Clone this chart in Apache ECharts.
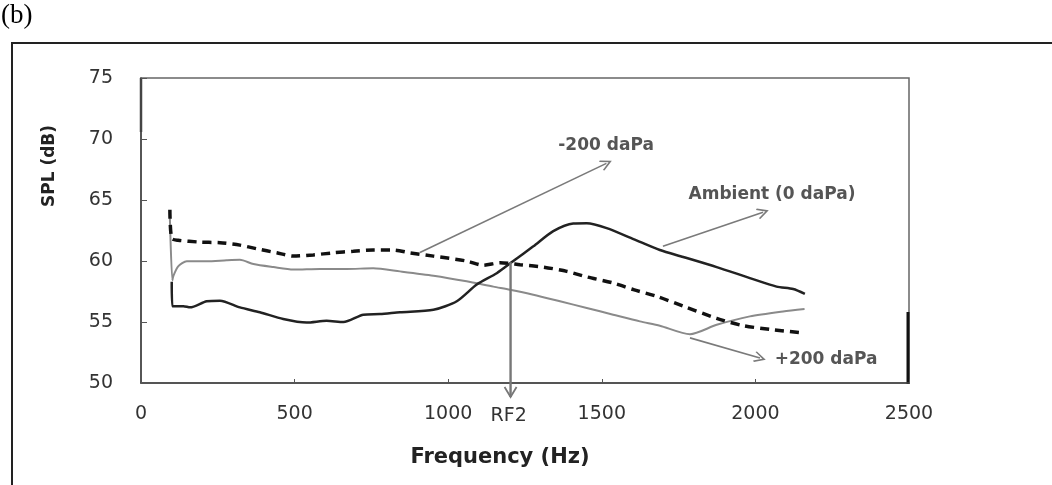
<!DOCTYPE html>
<html>
<head>
<meta charset="utf-8">
<script src="https://cdn.jsdelivr.net/npm/echarts@6/dist/echarts.min.js"></script>
<style>
  html, body { margin: 0; padding: 0; background: #fff; }
  #chart { width: 1052px; height: 485px; }
</style>
</head>
<body>
<div id="chart"></div>
<script>
// Axis ranges and tick spacing
const xRange = [0, 2500];
const xStep = 500;
const yRange = [50, 75];
const yStep = 5;

// Ambient (0 daPa) response
const ambientHz = [100, 102, 138, 160, 214, 257, 322, 387, 463, 539, 604, 659, 724, 778, 843, 952, 1028, 1093, 1158, 1212, 1277, 1342, 1407, 1451, 1516, 1603, 1689, 1765, 1874, 1982, 2069, 2123, 2161];
const ambientDb = [58.3, 56.3, 56.3, 56.2, 56.7, 56.75, 56.2, 55.8, 55.25, 54.96, 55.1, 55.0, 55.6, 55.65, 55.8, 56.0, 56.7, 58.07, 59.0, 60.0, 61.2, 62.45, 63.08, 63.1, 62.7, 61.8, 60.9, 60.33, 59.5, 58.6, 57.9, 57.7, 57.3];

// -200 daPa response
const minus200Hz = [94, 100, 121, 192, 257, 322, 377, 442, 496, 561, 626, 691, 756, 821, 876, 952, 1060, 1114, 1169, 1234, 1310, 1386, 1451, 1537, 1603, 1679, 1765, 1874, 1960, 2047, 2156];
const minus200Db = [64.2, 61.85, 61.7, 61.55, 61.5, 61.3, 61.0, 60.67, 60.4, 60.5, 60.67, 60.8, 60.9, 60.9, 60.67, 60.4, 60.0, 59.65, 59.86, 59.7, 59.5, 59.15, 58.7, 58.2, 57.65, 57.1, 56.3, 55.3, 54.7, 54.4, 54.1];

// +200 daPa response
const plus200Hz = [94, 102, 105, 121, 149, 214, 279, 322, 366, 431, 496, 583, 670, 756, 843, 952, 1060, 1147, 1201, 1277, 1364, 1451, 1537, 1624, 1689, 1787, 1874, 1982, 2090, 2160];
const plus200Db = [63.5, 58.4, 58.75, 59.56, 59.97, 59.97, 60.06, 60.1, 59.75, 59.5, 59.3, 59.35, 59.35, 59.4, 59.15, 58.8, 58.34, 57.9, 57.65, 57.24, 56.7, 56.15, 55.6, 55.05, 54.7, 54.0, 54.77, 55.46, 55.87, 56.07];

// Callout arrows: [start Hz, start dB, tip Hz, tip dB]
const arrowMinus200 = [908, 60.7, 1515, 68.0];
const arrowAmbient = [1699, 61.2, 2025, 64.0];
const arrowPlus200 = [1787, 53.7, 2015, 52.05];
// RF2 marker: second resonance frequency, arrow runs below the x axis
const arrowRF2 = [1203, 59.9, 1203, 48.85];
const rf2Text = ['RF2', 1197, 47.3];

// Callout texts: [label, Hz, dB]
const calloutTexts = [
  ['-200 daPa', 1514, 69.42],
  ['Ambient (0 daPa)', 2054, 65.47],
  ['+200 daPa', 2230, 51.9]
];

const zip = (xs, ys) => xs.map((x, i) => [x, ys[i]]);

const chevron = 'path://M5,0 L10,9 L9,10 L5,3 L1,10 L0,9 Z';
const arrowLine = (a) => [{ coord: [a[0], a[1]] }, { coord: [a[2], a[3]] }];

const chart = echarts.init(document.getElementById('chart'), null, { renderer: 'canvas' });

const tickFont = { color: '#333', fontSize: 19, fontFamily: 'DejaVu Sans' };
const calloutFont = { color: '#555', fontSize: 17, fontWeight: 'bold', fontFamily: 'DejaVu Sans' };

chart.setOption({
  animation: false,
  backgroundColor: '#fff',
  grid: {
    left: 141, right: 143, top: 78, bottom: 102,
    show: true, borderColor: '#666', borderWidth: 1.5, backgroundColor: 'transparent'
  },
  xAxis: {
    type: 'value', min: xRange[0], max: xRange[1], interval: xStep,
    axisLine: { show: true, lineStyle: { color: '#444', width: 1.5 } },
    axisTick: { show: true, inside: true, length: 4, lineStyle: { color: '#555' } },
    splitLine: { show: false },
    axisLabel: Object.assign({ margin: 22, formatter: (v) => String(v) }, tickFont)
  },
  yAxis: {
    type: 'value', min: yRange[0], max: yRange[1], interval: yStep,
    axisLine: { show: true, lineStyle: { color: '#444', width: 1.5 } },
    axisTick: { show: true, inside: true, length: 6, lineStyle: { color: '#555' } },
    splitLine: { show: false },
    axisLabel: Object.assign({ margin: 28, formatter: (v) => String(v) }, tickFont)
  },
  series: [
    {
      name: '+200 daPa', type: 'line', data: zip(plus200Hz, plus200Db),
      symbol: 'none', smooth: 0.25,
      lineStyle: { color: '#8a8a8a', width: 2 }, z: 2
    },
    {
      name: '-200 daPa', type: 'line', data: zip(minus200Hz, minus200Db),
      symbol: 'none', smooth: 0.25,
      lineStyle: { color: '#111', width: 3.5, type: [9, 6] }, z: 3
    },
    {
      name: 'Ambient (0 daPa)', type: 'line', data: zip(ambientHz, ambientDb),
      symbol: 'none', smooth: 0.25,
      lineStyle: { color: '#222', width: 2.5 }, z: 4
    },
    {
      name: 'callouts', type: 'line', data: [], clip: false, z: 5,
      markLine: {
        silent: true, animation: false,
        symbol: ['none', chevron], symbolSize: [11, 12],
        label: { show: false },
        lineStyle: { color: '#7a7a7a', width: 1.6, type: 'solid' },
        emphasis: { disabled: true },
        data: [
          arrowLine(arrowMinus200),
          arrowLine(arrowAmbient),
          arrowLine(arrowPlus200)
        ]
      },
      markPoint: {
        silent: true, animation: false,
        symbol: 'circle', symbolSize: 1,
        itemStyle: { color: 'rgba(0,0,0,0)' },
        label: Object.assign({ show: true, position: 'inside', formatter: '{b}' }, calloutFont),
        data: calloutTexts.map(t => ({ name: t[0], coord: [t[1], t[2]] }))
      }
    }
  ]
});

// The RF2 arrow and its label sit partly below the axis, so they are placed
// through the grid's own value-to-pixel conversion rather than as markers.
const toPx = (hz, db) => chart.convertToPixel({ gridIndex: 0 }, [hz, db]);
const rfFrom = toPx(arrowRF2[0], arrowRF2[1]);
const rfTip = toPx(arrowRF2[2], arrowRF2[3]);
const rfLabel = toPx(rf2Text[1], rf2Text[2]);

chart.setOption({
  graphic: [
    { type: 'text', x: 1, y: 2, style: { text: '(b)', font: '27px "Liberation Serif", serif', fill: '#000' } },
    { type: 'polyline', shape: { points: [[12, 485], [12, 43], [1052, 43]] }, style: { stroke: '#222', lineWidth: 2, fill: null } },
    { type: 'text', x: 50, y: 166, rotation: Math.PI / 2,
      style: { text: 'SPL (dB)', fontSize: 17, fontWeight: 'bold', fontFamily: 'DejaVu Sans', fill: '#222', align: 'center', verticalAlign: 'middle' } },
    { type: 'text', x: 500, y: 458,
      style: { text: 'Frequency (Hz)', fontSize: 21, fontWeight: 'bold', fontFamily: 'DejaVu Sans', fill: '#222', align: 'center', verticalAlign: 'middle' } },
    { type: 'line', shape: { x1: 908, y1: 312, x2: 908, y2: 384 }, style: { stroke: '#111', lineWidth: 3 } },
    { type: 'line', shape: { x1: 141, y1: 78, x2: 141, y2: 132 }, style: { stroke: '#444', lineWidth: 2.5 } },
    { type: 'line', z: 10, shape: { x1: rfFrom[0], y1: rfFrom[1], x2: rfTip[0], y2: rfTip[1] }, style: { stroke: '#777', lineWidth: 2.4 } },
    { type: 'polyline', z: 10, shape: { points: [[rfTip[0] - 6, rfTip[1] - 10], [rfTip[0], rfTip[1]], [rfTip[0] + 6, rfTip[1] - 10]] },
      style: { stroke: '#777', lineWidth: 1.8, fill: null } },
    { type: 'text', z: 10, x: rfLabel[0], y: rfLabel[1],
      style: { text: rf2Text[0], fontSize: 19, fontFamily: 'DejaVu Sans', fill: '#333', align: 'center', verticalAlign: 'middle' } }
  ]
});
</script>
</body>
</html>
